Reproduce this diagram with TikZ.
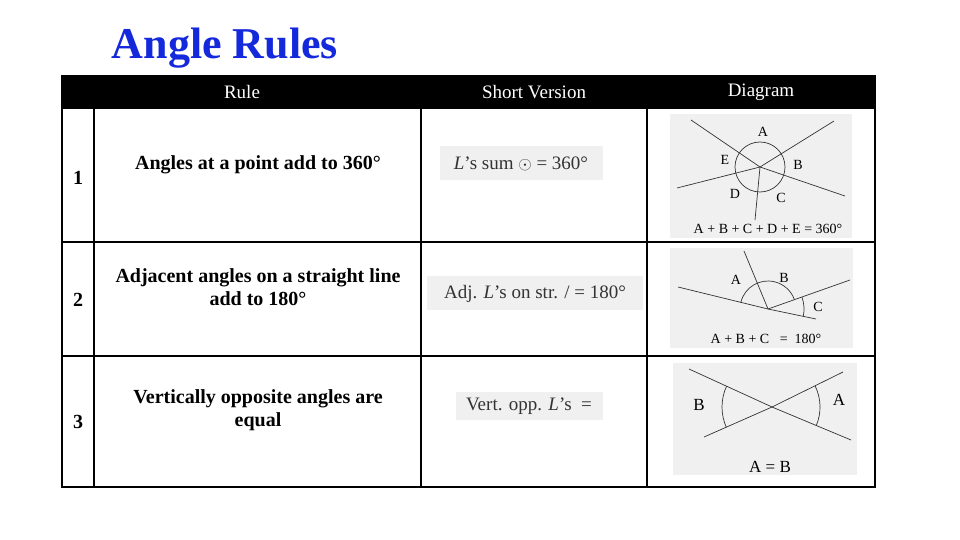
\documentclass[tikz,border=0pt]{standalone}
\usepackage{fontspec}
\setmainfont{Liberation Serif}
\begin{document}
\begin{tikzpicture}[x=1pt,y=-1pt,
  grid/.style={line width=1.5pt},
  cell/.style={font=\bfseries\fontsize{20}{23}\selectfont,align=center},
  hcell/.style={font=\fontsize{19}{21}\selectfont,align=center,text=white},
  img/.style={fill=black!6,draw=none},
  ln/.style={line width=0.7pt,black!80},
  lbl/.style={font=\fontsize{14}{14}\selectfont},
  sv/.style={font=\fontsize{19}{19}\selectfont,text=black!80}]
\useasboundingbox (0,0) rectangle (960,540);
\node[font=\bfseries\fontsize{44}{44}\selectfont,text={rgb,255:red,20;green,40;blue,220}] (title) at (225,48) {Angle Rules};
% header
\fill (62,76) rectangle (875,109);
\node[hcell] (h1) at (242,92) {Rule};
\node[hcell] (h2) at (534,92) {Short Version};
\node[hcell] (h3) at (761,92) {Diagram};
% grid
\draw[grid] (62,76) rectangle (875,487);
\draw[grid] (62,242) -- (875,242) (62,356) -- (875,356);
\draw[grid] (94,109) -- (94,487) (421,109) -- (421,487) (647,109) -- (647,487);
% rows
\node[cell] (n1) at (78,178) {1};
\node[cell] (n2) at (78,300) {2};
\node[cell] (n3) at (78,422) {3};
\node[cell] (r1) at (258,165) {Angles at a point add to 360°};
\node[cell] (r2) at (258,287) {Adjacent angles on a straight line\\add to 180°};
\node[cell] (r3) at (258,410) {Vertically opposite angles are\\equal};
% short versions
\fill[img] (440,146) rectangle (603,180);
\node[sv] (s1) at (521,164) {\textit{L}'s sum $\odot$ = 360°};
\fill[img] (427,276) rectangle (643,310);
\node[sv] (s2) at (535,294) {Adj. \textit{L}'s on str. / = 180°};
\fill[img] (456,392) rectangle (603,420);
\node[sv] (s3) at (529,406) {Vert. opp. \textit{L}'s \ =};
% diagram 1
\fill[img] (670,114) rectangle (852,238);
\coordinate (c1) at (760,167);
\draw[ln] (691,120) -- (c1) -- (845,196);
\draw[ln] (834,121) -- (c1) -- (677,188);
\draw[ln] (c1) -- (755,220);
\draw[ln] (c1) circle (25);
\node[lbl] (a1) at (763,132) {A};
\node[lbl] (e1) at (725,160) {E};
\node[lbl] (b1) at (798,165) {B};
\node[lbl] (d1) at (735,194) {D};
\node[lbl] (cc1) at (781,198) {C};
\node[lbl] (eq1) at (768,229) {A + B + C + D + E = 360°};
% diagram 2
\fill[img] (670,248) rectangle (853,348);
\coordinate (c2) at (768,309);
\draw[ln] (678,287) -- (c2) -- (816,319);
\draw[ln] (c2) -- (744,251);
\draw[ln] (c2) -- (850,280);
\draw[ln] (c2) ++(193.7:28) arc[start angle=193.7,end angle=340.5,radius=28];
\draw[ln] (c2) ++(340.5:36) arc[start angle=340.5,end angle=371.8,radius=36];
\node[lbl] (a2) at (736,280) {A};
\node[lbl] (b2) at (784,278) {B};
\node[lbl] (cc2) at (818,307) {C};
\node[lbl] (eq2) at (766,339) {A + B + C \ \ = \ 180°};
% diagram 3
\fill[img] (673,363) rectangle (857,475);
\coordinate (c3) at (772,407);
\draw[ln] (689,369) -- (c3) -- (851,440);
\draw[ln] (704,437) -- (c3) -- (843,372);
\draw[ln] (c3) ++(155.8:50) arc[start angle=155.8,end angle=204.6,radius=50];
\draw[ln] (c3) ++(-26.2:48) arc[start angle=-26.2,end angle=22.7,radius=48];
\node[lbl,font=\fontsize{17}{17}\selectfont] (b3) at (699,405) {B};
\node[lbl,font=\fontsize{17}{17}\selectfont] (a3) at (839,400) {A};
\node[lbl,font=\fontsize{17}{17}\selectfont] (eq3) at (770,467) {A = B};
\end{tikzpicture}
\end{document}
